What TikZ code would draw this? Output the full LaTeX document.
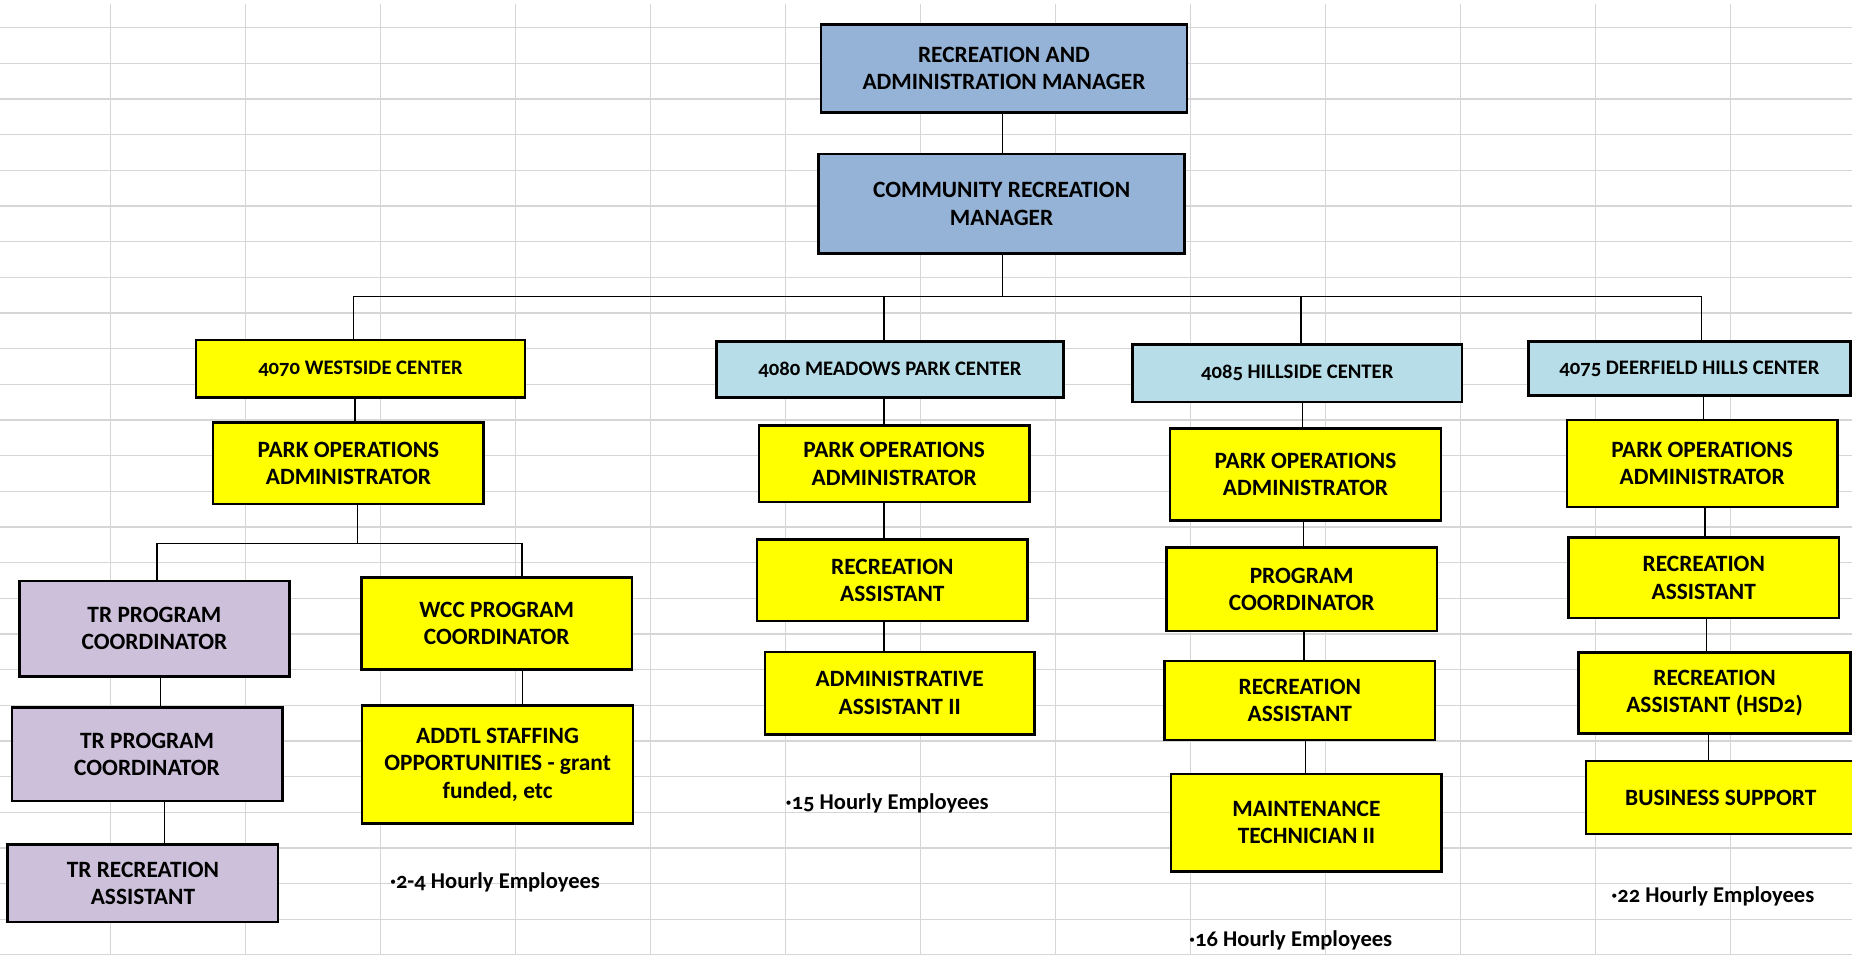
\documentclass[tikz,border=0pt]{standalone}
\usepackage{fontspec}
\setmainfont{Carlito}[Numbers=OldStyle]
\definecolor{gridc}{HTML}{D6D6D6}
\definecolor{bluebox}{HTML}{95B3D7}
\definecolor{aquabox}{HTML}{B7DEE8}
\definecolor{yelbox}{HTML}{FFFF00}
\definecolor{lavbox}{HTML}{CCC0DA}
\newcommand\orgbox[7]{\node[obox,#2,minimum width={#5-#3},minimum height={#6-#4}] (#1) at ({(#3+#5)/2},{-(#4+#6)/2}) {#7};}
\newcommand\vconn[3]{\draw[conn] (#1.south -| #3,0) -- (#2.north -| #3,0);}
\begin{document}
\begin{tikzpicture}[x=1pt,y=1pt,
  obox/.style={draw=black,line width=2.1pt,inner sep=0pt,align=center,
    font=\fontsize{19.8}{23.2}\selectfont\bfseries},
  clabel/.style={font=\fontsize{17.5}{21}\selectfont\bfseries},
  conn/.style={line width=1.1pt,black},
  hourly/.style={anchor=west,inner sep=0pt,font=\fontsize{19.1}{22}\selectfont\bfseries}]
\useasboundingbox (0,0) rectangle (1568,-808);
\fill[white] (0,0) rectangle (1568,-808);
% spreadsheet grid
\foreach \k in {0,...,12} \draw[gridc,line width=1pt] ({93.5+114.3*\k},-3.4) -- ({93.5+114.3*\k},-808);
\foreach \k in {0,...,26} \draw[gridc,line width=1pt] (0,{-(23.4+30.2*\k)}) -- (1568,{-(23.4+30.2*\k)});
% boxes
\orgbox{ram}{fill=bluebox}{695}{20.6}{1005}{95.4}{RECREATION AND\\ADMINISTRATION MANAGER}
\orgbox{crm}{fill=bluebox}{693}{130.4}{1003}{214.8}{COMMUNITY RECREATION\\MANAGER}
\orgbox{ws}{fill=yelbox,clabel}{166}{288}{444.5}{336.4}{4070 WESTSIDE CENTER}
\orgbox{mp}{fill=aquabox,clabel}{606.5}{289.3}{900.6}{336.4}{4080 MEADOWS PARK CENTER}
\orgbox{hs}{fill=aquabox,clabel}{959}{291.6}{1237.6}{340.4}{4085 HILLSIDE CENTER}
\orgbox{dh}{fill=aquabox,clabel}{1294}{289.3}{1566.6}{335}{4075 DEERFIELD HILLS CENTER}
\orgbox{wspo}{fill=yelbox}{180.5}{357.9}{409.5}{426.5}{PARK OPERATIONS\\ADMINISTRATOR}
\orgbox{mppo}{fill=yelbox}{642.5}{360.2}{871.6}{425}{PARK OPERATIONS\\ADMINISTRATOR}
\orgbox{hspo}{fill=yelbox}{990.6}{362.7}{1220}{440.6}{PARK OPERATIONS\\ADMINISTRATOR}
\orgbox{dhpo}{fill=yelbox}{1326.6}{355.6}{1555.6}{429.3}{PARK OPERATIONS\\ADMINISTRATOR}
\orgbox{trpca}{fill=lavbox}{16.5}{491.7}{245}{572.7}{TR PROGRAM\\COORDINATOR}
\orgbox{wcc}{fill=yelbox}{306}{489.1}{535}{567}{WCC PROGRAM\\COORDINATOR}
\orgbox{trpcb}{fill=lavbox}{10}{599.2}{239}{678}{TR PROGRAM\\COORDINATOR}
\orgbox{addtl}{fill=yelbox}{306.5}{597.5}{536}{697.4}{ADDTL STAFFING\\OPPORTUNITIES - grant\\funded, etc}
\orgbox{trra}{fill=lavbox}{6.5}{715}{235.5}{780.7}{TR RECREATION\\ASSISTANT}
\orgbox{mpra}{fill=yelbox}{641}{456.7}{870}{525.8}{RECREATION\\ASSISTANT}
\orgbox{mpaa}{fill=yelbox}{647.5}{551.8}{876}{621.8}{ADMINISTRATIVE\\ASSISTANT II}
\orgbox{hspc}{fill=yelbox}{987.6}{463.7}{1216.6}{534.3}{PROGRAM\\COORDINATOR}
\orgbox{hsra}{fill=yelbox}{986}{559.7}{1215}{626.6}{RECREATION\\ASSISTANT}
\orgbox{hsmt}{fill=yelbox}{991.6}{655.1}{1220.6}{737.8}{MAINTENANCE\\TECHNICIAN II}
\orgbox{dhra}{fill=yelbox}{1328}{455}{1557}{523.3}{RECREATION\\ASSISTANT}
\orgbox{dhrb}{fill=yelbox}{1336.6}{552.6}{1566.6}{621.2}{RECREATION\\ASSISTANT (HSD2)}
\orgbox{dhbs}{fill=yelbox}{1342.6}{644.4}{1571.2}{706.2}{BUSINESS SUPPORT}
% connectors
\draw[conn] (ram.south -| 849,0) -- (crm.north -| 849,0);
\coordinate (busC) at (848.6,-251);
\coordinate (busL) at (299,-251);
\coordinate (busR) at (1440.6,-251);
\coordinate (busM) at (748.5,-251);
\coordinate (busH) at (1101.6,-251);
\draw[conn] (crm.south -| busC) -- (busC);
\draw[conn] (ws.north -| busL) -- (busL) -- (busR) -- (dh.north -| busR);
\draw[conn] (busM) -- (mp.north -| busM);
\draw[conn] (busH) -- (hs.north -| busH);
\vconn{ws}{wspo}{300.5}
\vconn{mp}{mppo}{748.5}
\vconn{hs}{hspo}{1102.6}
\vconn{dh}{dhpo}{1442}
\coordinate (wbusC) at (302.5,-460);
\coordinate (wbusL) at (133,-460);
\coordinate (wbusR) at (442,-460);
\draw[conn] (wspo.south -| wbusC) -- (wbusC);
\draw[conn] (trpca.north -| wbusL) -- (wbusL) -- (wbusR) -- (wcc.north -| wbusR);
\vconn{trpca}{trpcb}{136}
\vconn{trpcb}{trra}{139}
\vconn{wcc}{addtl}{442.5}
\vconn{mppo}{mpra}{748.5}
\vconn{mpra}{mpaa}{748.5}
\vconn{hspo}{hspc}{1103.6}
\vconn{hspc}{hsra}{1104}
\vconn{hsra}{hsmt}{1105}
\vconn{dhpo}{dhra}{1443.6}
\vconn{dhra}{dhrb}{1445}
\vconn{dhrb}{dhbs}{1446.6}
% hourly notes
\node[hourly] (hwa) at (330,-746.8) {·2-4 Hourly Employees};
\node[hourly] (hmp) at (665,-680.5) {·15 Hourly Employees};
\node[hourly] (hhs) at (1006.6,-796.2) {·16 Hourly Employees};
\node[hourly] (hdh) at (1364,-759) {·22 Hourly Employees};
\end{tikzpicture}
\end{document}
